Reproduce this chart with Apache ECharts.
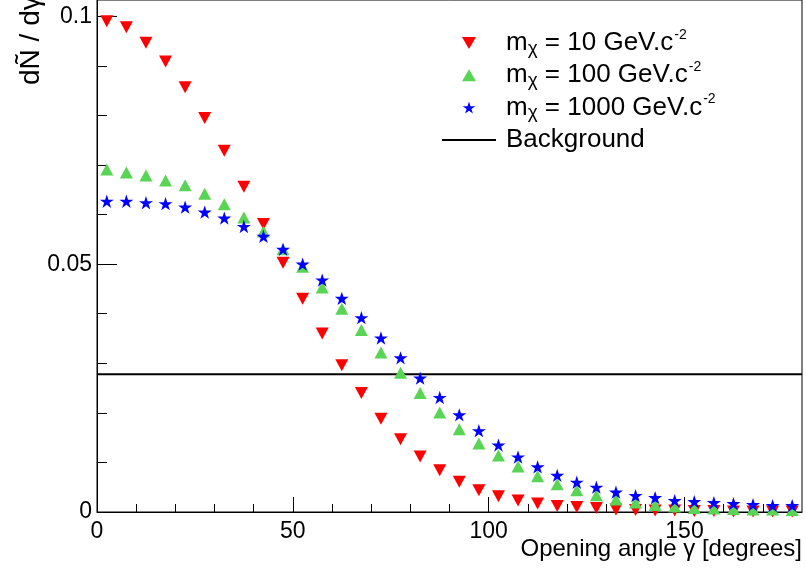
<!DOCTYPE html>
<html><head><meta charset="utf-8">
<script src="https://cdn.jsdelivr.net/npm/echarts@6/dist/echarts.min.js"></script>
<style>html,body{margin:0;padding:0;background:#fff}#c{width:806px;height:574px}</style>
</head><body><div id="c"></div>
<script>
// ---- data ----
const angles = [2.5, 7.5, 12.5, 17.5, 22.5, 27.5, 32.5, 37.5, 42.5, 47.5, 52.5, 57.5,
  62.5, 67.5, 72.5, 77.5, 82.5, 87.5, 92.5, 97.5, 102.5, 107.5, 112.5, 117.5,
  122.5, 127.5, 132.5, 137.5, 142.5, 147.5, 152.5, 157.5, 162.5, 167.5, 172.5, 177.5];
const m10 = [0.0990, 0.0978, 0.0947, 0.0909, 0.0857, 0.0795, 0.0729, 0.0656, 0.0581, 0.0503, 0.0430, 0.0360,
  0.0296, 0.0240, 0.0188, 0.0147, 0.0112, 0.0084, 0.0061, 0.0044, 0.0032, 0.0023, 0.0017, 0.0012,
  0.0010, 0.0008, 0.0005, 0.0004, 0.0003, 0.0003, 0.0002, 0.0002, 0.0001, 0.0001, 0.0001, 0.0001];
const m100 = [0.0691, 0.0685, 0.0679, 0.0669, 0.0659, 0.0642, 0.0621, 0.0594, 0.0566, 0.0530, 0.0495, 0.0453,
  0.0410, 0.0367, 0.0322, 0.0281, 0.0240, 0.0201, 0.0167, 0.0138, 0.0114, 0.0092, 0.0072, 0.0056,
  0.0044, 0.0034, 0.0025, 0.0019, 0.0014, 0.0011, 0.0008, 0.0007, 0.0006, 0.0005, 0.0005, 0.0004];
const m1000 = [0.0627, 0.0627, 0.0624, 0.0622, 0.0615, 0.0605, 0.0593, 0.0576, 0.0556, 0.0530, 0.0500, 0.0468,
  0.0431, 0.0392, 0.0351, 0.0311, 0.0270, 0.0231, 0.0196, 0.0164, 0.0135, 0.0111, 0.0091, 0.0074,
  0.0060, 0.0050, 0.0040, 0.0033, 0.0029, 0.0023, 0.0021, 0.0019, 0.0017, 0.0015, 0.0013, 0.0013];
const bgX = [0, 180];
const bgLevel = 0.0278;
const xMajorTicks = [0, 50, 100, 150];
const xMinorTicks = [10, 20, 30, 40, 60, 70, 80, 90, 110, 120, 130, 140, 160, 170];
const yMajorTicks = [0, 0.05, 0.1];
const yMinorTicks = [0.01, 0.02, 0.03, 0.04, 0.06, 0.07, 0.08, 0.09];
const seriesNames = ['m10', 'm100', 'm1000', 'Background'];
const legendLabels = {
  m10: '{m0|m}{sub|χ}{main| = 10 GeV.c}{sup|-2}',
  m100: '{m0|m}{sub|χ}{main| = 100 GeV.c}{sup|-2}',
  m1000: '{m0|m}{sub|χ}{main| = 1000 GeV.c}{sup|-2}',
  Background: '{m0|Background}'
};
const xTitle = 'Opening angle γ [degrees]';
const yTitle = 'dÑ / dγ';

// ---- chart ----
const FONT = '"Liberation Sans", Arial, Helvetica, sans-serif';
const STAR = 'path://M100,0 L122.45,69.1 L195.11,69.1 L136.33,111.8 L158.78,180.9 L100,138.2 L41.22,180.9 L63.67,111.8 L4.89,69.1 L77.55,69.1 Z';
const TRI_DOWN = 'path://M0,0 L14,0 L7,12 Z';
const TRI_UP = 'path://M7,0 L14,12 L0,12 Z';
const pairs = arr => angles.map((a, i) => [a, arr[i]]);
const X_MIN = 0, X_MAX = 180, Y_MIN = 0, Y_MAX = 0.1033;
const LH = 30;

const chart = echarts.init(document.getElementById('c'), null, {renderer: 'canvas'});
chart.setOption({
  animation: false,
  backgroundColor: '#fff',
  grid: {left: 97, right: 4, top: 0, bottom: 62, show: true, borderColor: '#000', borderWidth: 1,
         containLabel: false, outerBoundsMode: 'none'},
  xAxis: [{
    type: 'value', min: X_MIN, max: X_MAX, interval: 50, position: 'bottom',
    axisLine: {show: true, onZero: false, lineStyle: {color: '#000', width: 1}},
    axisTick: {show: true, inside: true, length: 15, lineStyle: {color: '#000', width: 1}, customValues: xMajorTicks},
    axisLabel: {show: true, color: '#000', fontSize: 23, fontFamily: FONT, margin: 8, customValues: xMajorTicks,
      formatter: v => (xMajorTicks.indexOf(v) >= 0 ? String(v) : '')},
    splitLine: {show: false}
  }, {
    type: 'value', min: X_MIN, max: X_MAX, interval: 10, position: 'bottom',
    axisLine: {show: false, onZero: false},
    axisTick: {show: true, inside: true, length: 8, lineStyle: {color: '#000', width: 1}, customValues: xMinorTicks},
    axisLabel: {show: false}, splitLine: {show: false}
  }],
  yAxis: [{
    type: 'value', min: Y_MIN, max: Y_MAX, interval: 0.05, position: 'left',
    axisLine: {show: true, onZero: false, lineStyle: {color: '#000', width: 1}},
    axisTick: {show: true, inside: true, length: 20, lineStyle: {color: '#000', width: 1}, customValues: yMajorTicks},
    axisLabel: {show: true, color: '#000', fontSize: 23, fontFamily: FONT, margin: 5, customValues: yMajorTicks,
      formatter: v => (yMajorTicks.some(t => Math.abs(t - v) < 1e-9) ? String(v) : '')},
    splitLine: {show: false}
  }, {
    type: 'value', min: Y_MIN, max: Y_MAX, interval: 0.01, position: 'left',
    axisLine: {show: false, onZero: false},
    axisTick: {show: true, inside: true, length: 10, lineStyle: {color: '#000', width: 1}, customValues: yMinorTicks},
    axisLabel: {show: false}, splitLine: {show: false}
  }],
  legend: {
    orient: 'vertical', left: 441, top: 28, padding: 0, itemGap: 2.3,
    itemWidth: 54, itemHeight: 12, symbolRotate: 0, symbolKeepAspect: true,
    data: [{name: 'm10', icon: TRI_DOWN}, {name: 'm100', icon: TRI_UP}, 'm1000', 'Background'],
    formatter: name => legendLabels[name],
    textStyle: {
      color: '#000', fontFamily: FONT, fontSize: 26, lineHeight: LH,
      rich: {
        main: {fontFamily: FONT, fontSize: 26, color: '#000', lineHeight: LH, verticalAlign: 'middle'},
        m0: {fontFamily: FONT, fontSize: 26, color: '#000', lineHeight: LH, verticalAlign: 'middle', padding: [0, 0, 0, 5]},
        sub: {fontFamily: FONT, fontSize: 19, color: '#000', lineHeight: 14, verticalAlign: 'bottom'},
        sup: {fontFamily: FONT, fontSize: 14, color: '#000', lineHeight: 12, verticalAlign: 'top', padding: [0, 0, 0, 1]}
      }
    }
  },
  series: [{
    name: 'Background', type: 'line', xAxisIndex: 0, yAxisIndex: 0,
    data: bgX.map(x => [x, bgLevel]), symbol: 'none',
    itemStyle: {color: 'rgba(0,0,0,0)'},
    lineStyle: {color: '#000', width: 2}, z: 1
  }, {
    name: 'm10', type: 'scatter', data: pairs(m10), symbol: 'triangle', symbolRotate: 180,
    symbolSize: [13, 12], itemStyle: {color: '#ff0000', opacity: 1}, z: 2
  }, {
    name: 'm100', type: 'scatter', data: pairs(m100), symbol: 'triangle',
    symbolSize: [13, 12], itemStyle: {color: '#59d454', opacity: 1}, z: 3
  }, {
    name: 'm1000', type: 'scatter', data: pairs(m1000), symbol: STAR, symbolKeepAspect: true,
    symbolSize: 14, itemStyle: {color: '#0000ff', opacity: 1}, z: 4
  }],
  graphic: [{
    type: 'text', x: 31, y: 85, rotation: Math.PI / 2,
    style: {text: yTitle, fill: '#000', fontSize: 28, fontFamily: FONT, align: 'left', verticalAlign: 'middle'}
  }, {
    type: 'text', x: 802, y: 549,
    style: {text: xTitle, fill: '#000', fontSize: 24, fontFamily: FONT, align: 'right', verticalAlign: 'middle'}
  }]
});
</script>
</body></html>
